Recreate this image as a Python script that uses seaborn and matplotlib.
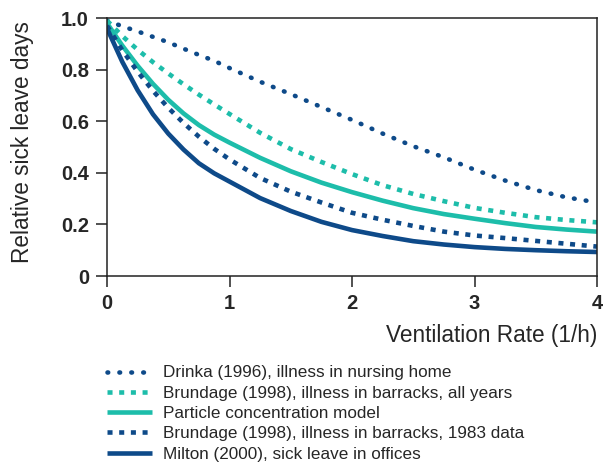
import numpy as np
import pandas as pd
import matplotlib
matplotlib.use("Agg")
import matplotlib.pyplot as plt
import seaborn as sns

ventilation = [0, 0.125, 0.25, 0.375, 0.5, 0.625, 0.75, 0.875, 1.0,
               1.25, 1.5, 1.75, 2.0, 2.25, 2.5, 2.75, 3.0, 3.25, 3.5, 3.75, 4.0]

drinka = [0.99, 0.968, 0.948, 0.927, 0.906, 0.881, 0.857, 0.834, 0.806,
          0.753, 0.705, 0.655, 0.605, 0.552, 0.503, 0.46, 0.412, 0.37, 0.333, 0.305, 0.285]
brundage_all = [0.99, 0.93, 0.877, 0.829, 0.785, 0.743, 0.703, 0.665, 0.628,
                0.555, 0.492, 0.442, 0.395, 0.352, 0.318, 0.29, 0.264, 0.245, 0.228, 0.217, 0.208]
particle = [0.98, 0.893, 0.815, 0.745, 0.683, 0.630, 0.585, 0.548, 0.517,
            0.458, 0.406, 0.362, 0.325, 0.292, 0.263, 0.24, 0.222, 0.205, 0.19, 0.18, 0.172]
brundage_1983 = [0.97, 0.875, 0.792, 0.718, 0.652, 0.593, 0.54, 0.493, 0.452,
                 0.38, 0.327, 0.285, 0.245, 0.218, 0.194, 0.172, 0.157, 0.147, 0.136, 0.125, 0.114]
milton = [0.96, 0.83, 0.72, 0.627, 0.552, 0.49, 0.437, 0.398, 0.366,
          0.302, 0.252, 0.21, 0.178, 0.155, 0.135, 0.122, 0.112, 0.105, 0.10, 0.096, 0.093]

labels = [
    "Drinka (1996), illness in nursing home",
    "Brundage (1998), illness in barracks, all years",
    "Particle concentration model",
    "Brundage (1998), illness in barracks, 1983 data",
    "Milton (2000), sick leave in offices",
]
x_ticks = [0, 1, 2, 3, 4]
x_ticklabels = ["0", "1", "2", "3", "4"]
y_ticks = [0, 0.2, 0.4, 0.6, 0.8, 1.0]
y_ticklabels = ["0", "0.2", "0.4", "0.6", "0.8", "1.0"]

NAVY = "#0E4A89"
TEAL = "#1DBDAA"

sns.set_style("ticks")
plt.rcParams["font.family"] = ["Liberation Sans", "DejaVu Sans"]

fig = plt.figure(figsize=(6.07, 4.65), dpi=100)
ax = fig.add_axes([107 / 607, 1 - 276 / 465, 490 / 607, 258 / 465])

series = [drinka, brundage_all, particle, brundage_1983, milton]
styles = [
    dict(color=NAVY, dashes=(0.15, 2.45), capstyle="round"),
    dict(color=TEAL, dashes=(1.1, 1.45), capstyle="butt"),
    dict(color=TEAL, dashes=None, capstyle="butt"),
    dict(color=NAVY, dashes=(1.1, 1.45), capstyle="butt"),
    dict(color=NAVY, dashes=None, capstyle="butt"),
]

handles = []
for vals, lab, st in zip(series, labels, styles):
    df = pd.DataFrame({"x": ventilation, "y": vals})
    sns.lineplot(data=df, x="x", y="y", ax=ax, color=st["color"], linewidth=3.3,
                 label=lab, legend=False)
    line = ax.get_lines()[-1]
    line.set_solid_joinstyle("round")
    if st["dashes"] is not None:
        line.set_dashes(st["dashes"])
        line.set_dash_capstyle(st["capstyle"])
    else:
        line.set_solid_capstyle("butt")
    handles.append(line)

ax.set_xlim(0, 4)
ax.set_ylim(0, 1.0)
ax.set_xticks(x_ticks)
ax.set_xticklabels(x_ticklabels)
ax.set_yticks(y_ticks)
ax.set_yticklabels(y_ticklabels)
for lab in ax.get_xticklabels() + ax.get_yticklabels():
    lab.set_fontweight("bold")
    lab.set_fontsize(14.5)
ax.tick_params(direction="out", length=8, width=1.1, color="#222222", pad=5)
for sp in ax.spines.values():
    sp.set_visible(True)
    sp.set_linewidth(1.1)
    sp.set_color("#222222")

ax.set_xlabel("")
ax.set_ylabel("Relative sick leave days", fontsize=16.3, va="center")
ax.yaxis.set_label_coords(-84 / 490, 0.52)
fig.text(597 / 607, 1 - 335 / 465, "Ventilation Rate (1/h)", ha="right", va="center", fontsize=16.3)

leg = fig.legend(handles=handles, labels=labels, loc="upper left",
                 bbox_to_anchor=(107 / 607, 0.214), frameon=False, fontsize=12.3,
                 handlelength=2.65, handletextpad=0.6, labelspacing=0.31,
                 borderaxespad=0, borderpad=0)

fig.savefig("out.png", dpi=100)
